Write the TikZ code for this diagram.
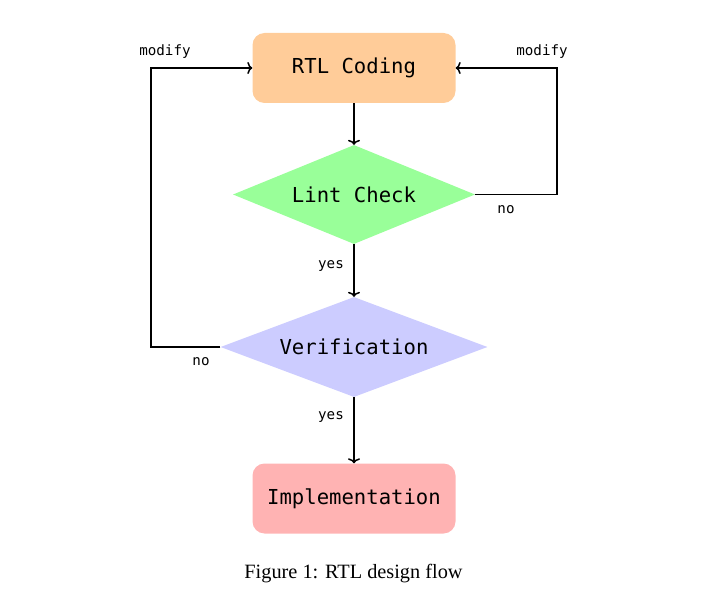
\documentclass[tikz,border=0pt]{standalone}
\usepackage{fontspec}
\setmainfont{Liberation Serif}
\setmonofont{DejaVu Sans Mono}
\usetikzlibrary{shapes.geometric,calc,arrows.meta}
\definecolor{cpeach}{RGB}{255,204,153}
\definecolor{cgreen}{RGB}{153,255,153}
\definecolor{cblue}{RGB}{204,204,255}
\definecolor{cred}{RGB}{255,179,179}
\tikzset{
  stepbox/.style={rectangle, rounded corners=12pt, minimum width=203pt, minimum height=70pt, inner sep=0pt, font=\ttfamily\fontsize{20.6}{24}\selectfont},
  decision/.style={diamond, inner sep=0pt, font=\ttfamily\fontsize{20.6}{24}\selectfont},
  conn/.style={line width=1.5pt, -{To[length=5pt,width=12pt]}},
  lbl/.style={inner sep=0pt, font=\ttfamily\fontsize{14.2}{17}\selectfont},
}
\begin{document}
\begin{tikzpicture}[x=1pt,y=-1pt]
\useasboundingbox (0,0) rectangle (705,607);
\node[stepbox, fill=cpeach] (rtl) at (354,68) {RTL Coding};
\node[decision, fill=cgreen, aspect=2.44, minimum width=242pt, minimum height=99pt] (lint) at (354,194.5) {Lint Check};
\node[decision, fill=cblue, aspect=2.67, minimum width=267pt, minimum height=100pt] (ver) at (354,347) {Verification};
\node[stepbox, fill=cred] (impl) at (354,498.5) {Implementation};
\coordinate (rcol) at (557,0);
\coordinate (lcol) at (151,0);
\draw[conn] (rtl) -- (lint);
\draw[conn] (lint) -- (ver);
\draw[conn] (ver) -- (impl);
\draw[conn] (lint.east) -- (lint.east -| rcol) |- (rtl.east);
\draw[conn] (ver.west) -- (ver.west -| lcol) |- (rtl.west);
\node[lbl] (m1) at (165,52) {modify};
\node[lbl] (m2) at (542,52) {modify};
\node[lbl] (n1) at (506,210) {no};
\node[lbl] (n2) at (201,362) {no};
\node[lbl] (y1) at (331,266) {yes};
\node[lbl] (y2) at (331,417) {yes};
\node[inner sep=0pt, font=\fontsize{20.3}{24}\selectfont] (cap) at (353.5,574) {Figure 1: RTL design flow};
\end{tikzpicture}
\end{document}
